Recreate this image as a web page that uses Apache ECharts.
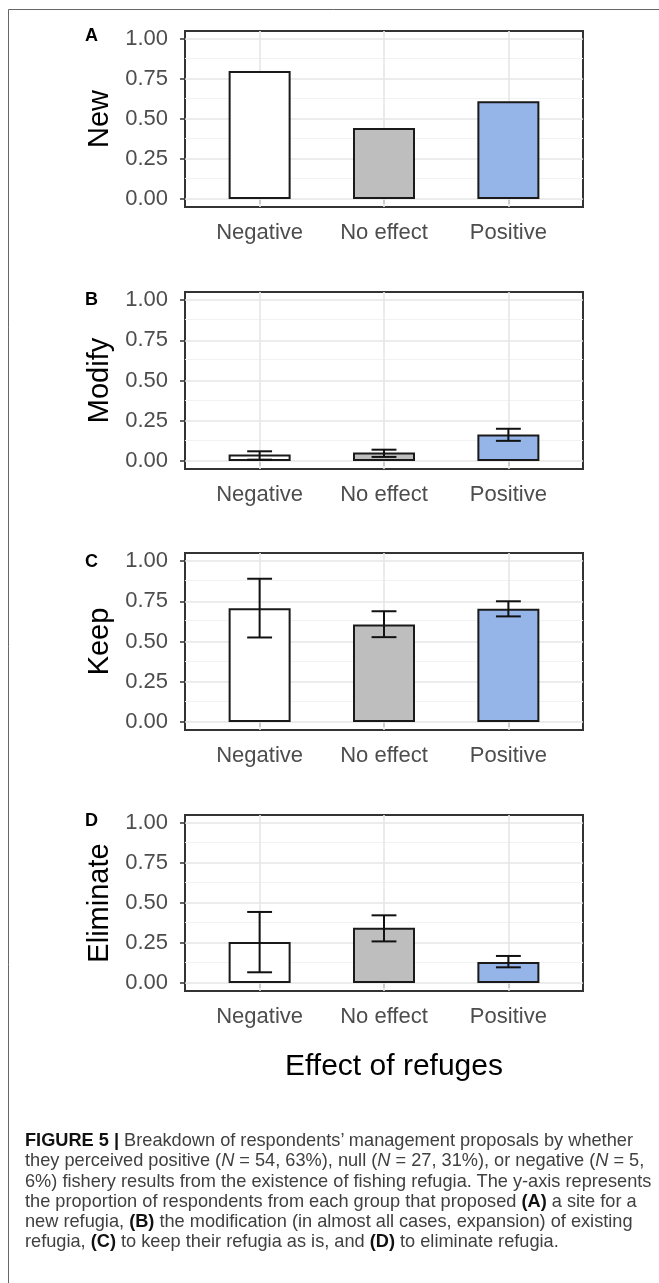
<!DOCTYPE html>
<html>
<head>
<meta charset="utf-8">
<script src="https://cdn.jsdelivr.net/npm/echarts@6/dist/echarts.min.js"></script>
<style>
  html, body { margin: 0; padding: 0; background: #fff; }
  #chart { position: absolute; left: 0; top: 0; width: 659px; height: 1283px; }
  .caption {
    position: absolute; left: 25px; top: 1130px;
    font-family: 'Liberation Sans', Arial, sans-serif;
    font-size: 18.2px; line-height: 20.3px; color: #404040;
    white-space: nowrap;
  }
  .caption b { color: #111; }
</style>
</head>
<body>
<div id="chart"></div>
<div class="caption">
<b>FIGURE 5 |</b> Breakdown of respondents’ management proposals by whether<br>
they perceived positive (<i>N</i> = 54, 63%), null (<i>N</i> = 27, 31%), or negative (<i>N</i> = 5,<br>
6%) fishery results from the existence of fishing refugia. The y-axis represents<br>
the proportion of respondents from each group that proposed <b>(A)</b> a site for a<br>
new refugia, <b>(B)</b> the modification (in almost all cases, expansion) of existing<br>
refugia, <b>(C)</b> to keep their refugia as is, and <b>(D)</b> to eliminate refugia.
</div>
<script>
// categories (x) and panel names
const categories = ['Negative', 'No effect', 'Positive']
const panelNames = ['New', 'Modify', 'Keep', 'Eliminate']
const panelLetters = ['A', 'B', 'C', 'D']

// proportions
const newValues = [0.80, 0.444, 0.611]
const modifyValues = [0.040, 0.052, 0.165]
const modifyLow = [0.008, 0.025, 0.125]
const modifyHigh = [0.060, 0.070, 0.200]
const keepValues = [0.706, 0.606, 0.704]
const keepLow = [0.525, 0.527, 0.656]
const keepHigh = [0.890, 0.688, 0.750]
const eliminateValues = [0.256, 0.346, 0.131]
const eliminateLow = [0.067, 0.260, 0.098]
const eliminateHigh = [0.444, 0.423, 0.169]

// tick labels
const yTicks = [0, 0.25, 0.5, 0.75, 1]
const yMinorTicks = [0.125, 0.375, 0.625, 0.875]
const xPositions = [1, 2, 3]

const panels = [
  { values: newValues, low: null, high: null },
  { values: modifyValues, low: modifyLow, high: modifyHigh },
  { values: keepValues, low: keepLow, high: keepHigh },
  { values: eliminateValues, low: eliminateLow, high: eliminateHigh }
]

// layout of each panel (px)
const panelTops = [31, 292, 553, 815]
const panelHeights = [176, 177, 177, 176]
const letterY = [36, 300, 562, 821]
const barColors = ['#ffffff', '#bebebe', '#95b5e8']
const font = 'Liberation Sans'

const myChart = echarts.init(document.getElementById('chart'))

const grid = [], xAxis = [], yAxis = [], series = [], graphic = []

panels.forEach((p, i) => {
  grid.push({
    left: 185, right: 76, top: panelTops[i], height: panelHeights[i],
    show: true, borderColor: '#333', borderWidth: 2, backgroundColor: 'transparent'
  })

  xAxis.push({
    gridIndex: i, type: 'value', min: 0.4, max: 3.6,
    axisLine: { show: false },
    axisTick: { show: true, customValues: xPositions, length: 5, lineStyle: { color: '#333', width: 1.5 } },
    axisLabel: {
      customValues: xPositions, formatter: v => categories[Math.round(v) - 1] || '',
      color: '#4d4d4d', fontSize: 22, margin: 15, fontFamily: font
    },
    splitLine: { show: false }
  })

  yAxis.push({
    gridIndex: i, type: 'value', min: -0.05, max: 1.05,
    name: panelNames[i], nameLocation: 'middle', nameGap: 71, nameRotate: 90,
    nameTextStyle: { fontSize: 29, color: '#000', fontFamily: font },
    axisLine: { show: false },
    axisTick: { show: true, customValues: yTicks, length: 5, lineStyle: { color: '#333', width: 1.5 } },
    axisLabel: {
      customValues: yTicks, formatter: v => v.toFixed(2),
      color: '#4d4d4d', fontSize: 22, margin: 17, fontFamily: font
    },
    splitLine: { show: false }
  })

  // grid lines drawn as marklines under the bars
  const major = { color: '#e6e6e6', width: 1.6 }
  const minor = { color: '#f2f2f2', width: 1.2 }
  const lines = []
  yMinorTicks.forEach(v => lines.push({ yAxis: v, lineStyle: minor }))
  yTicks.forEach(v => lines.push({ yAxis: v, lineStyle: major }))
  xPositions.forEach(v => lines.push({ xAxis: v, lineStyle: major }))

  series.push({
    type: 'bar', xAxisIndex: i, yAxisIndex: i, barWidth: 62, z: 2,
    data: p.values.map((v, j) => ({ value: [xPositions[j], v], itemStyle: { color: barColors[j] } })),
    itemStyle: { borderColor: '#1a1a1a', borderWidth: 2 },
    markLine: {
      silent: true, symbol: 'none', z: 1, animation: false,
      label: { show: false },
      lineStyle: { type: 'solid' },
      data: lines
    }
  })

  if (p.low) {
    series.push({
      type: 'custom', xAxisIndex: i, yAxisIndex: i, z: 3,
      data: p.low.map((l, j) => [xPositions[j], l, p.high[j]]),
      renderItem: function (params, api) {
        const x = api.value(0)
        const lo = api.coord([x, api.value(1)])
        const hi = api.coord([x, api.value(2)])
        const half = api.size([0.2, 0])[0] / 2
        const style = { stroke: '#111', lineWidth: 2 }
        return {
          type: 'group',
          children: [
            { type: 'line', shape: { x1: lo[0], y1: hi[1], x2: lo[0], y2: lo[1] }, style: style },
            { type: 'line', shape: { x1: lo[0] - half, y1: hi[1], x2: lo[0] + half, y2: hi[1] }, style: style },
            { type: 'line', shape: { x1: lo[0] - half, y1: lo[1], x2: lo[0] + half, y2: lo[1] }, style: style }
          ]
        }
      }
    })
  }

  // panel letter
  graphic.push({
    type: 'text', x: 91.5, y: letterY[i],
    style: { text: panelLetters[i], fill: '#000', font: 'bold 18px ' + font, align: 'center', verticalAlign: 'middle' }
  })
})

// x axis title
graphic.push({
  type: 'text', x: 394, y: 1067,
  style: { text: 'Effect of refuges', fill: '#000', font: '30px ' + font, align: 'center', verticalAlign: 'middle' }
})

// outer frame of the figure box
graphic.push({
  type: 'polyline', silent: true,
  shape: { points: [[8.5, 1283], [8.5, 9.5], [659, 9.5]] },
  style: { stroke: '#666', lineWidth: 1, fill: null }
})

myChart.setOption({
  animation: false,
  textStyle: { fontFamily: font },
  grid: grid,
  xAxis: xAxis,
  yAxis: yAxis,
  series: series,
  graphic: graphic
})

window.onresize = function () {
  myChart.resize()
}
</script>
</body>
</html>
